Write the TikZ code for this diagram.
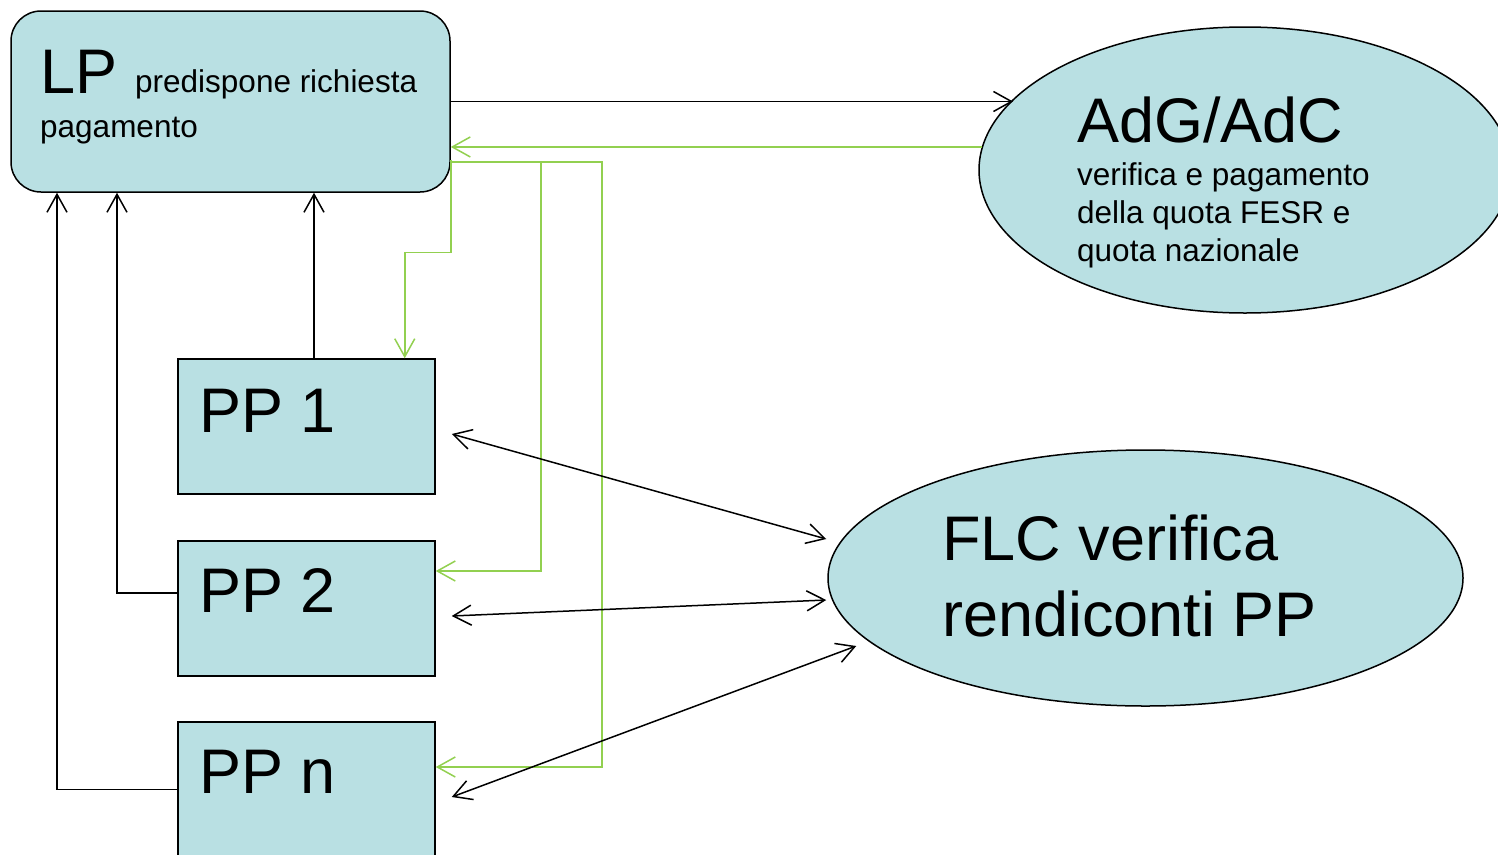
\documentclass[tikz,border=0pt]{standalone}
\usepackage{fontspec}
\setmainfont{Liberation Sans}
\usetikzlibrary{arrows.meta,shapes.geometric}
\definecolor{boxfill}{RGB}{185,224,227}
\definecolor{flowgreen}{RGB}{146,208,80}
\tikzset{
  shapebox/.style={draw=black, line width=1.5pt, fill=boxfill, inner sep=0pt},
  ppbox/.style={shapebox, rectangle, minimum width=257pt, minimum height=135pt},
  oval/.style={shapebox, ellipse},
  arr/.style={line width=1.5pt, -{Straight Barb[length=18pt,width=20pt]}},
  darr/.style={line width=1.5pt, {Straight Barb[length=18pt,width=20pt]}-{Straight Barb[length=18pt,width=20pt]}},
  garr/.style={arr, draw=flowgreen},
  bigtxt/.style={anchor=base west, inner sep=0pt, font=\fontsize{63}{76}\selectfont},
  smalltxt/.style={anchor=base west, inner sep=0pt, font=\fontsize{31.5}{38}\selectfont, align=left},
}
\begin{document}
\begin{tikzpicture}[x=1pt, y=-1pt]
\useasboundingbox (0,0) rectangle (1498,854);
\clip (0,0) rectangle (1498,854);
% shapes
\node[shapebox, rectangle, rounded corners=30pt, minimum width=439pt, minimum height=181pt] (LP) at (230.5,101.5) {};
\node[oval, minimum width=532pt, minimum height=286pt] (AdG) at (1245,170) {};
\node[oval, minimum width=635pt, minimum height=256pt] (FLC) at (1145.5,578) {};
\node[ppbox] (PP1) at (306.5,426.5) {};
\node[ppbox] (PP2) at (306.5,608.5) {};
\node[ppbox] (PPn) at (306.5,789.5) {};
% texts
\node[bigtxt] (tLP) at (40,93) {LP};
\node[smalltxt] (tLPa) at (135,92) {predispone richiesta};
\node[smalltxt] (tLPb) at (40,137) {pagamento};
\node[bigtxt] (tAdG) at (1077,142) {AdG/AdC};
\node[smalltxt] (tAdGa) at (1077,261) {verifica e pagamento\\della quota FESR e\\quota nazionale};
\node[bigtxt, align=left] (tFLC) at (942,636) {FLC verifica\\rendiconti PP};
\node[bigtxt] (tPP1) at (199,432) {PP 1};
\node[bigtxt] (tPP2) at (199,612) {PP 2};
\node[bigtxt] (tPPn) at (199,793) {PP n};
% LP -> AdG
\draw[arr] (LP.east) -- (LP.east -| AdG.163.8);
% AdG -> LP (green)
\draw[garr] (AdG.175) -- (LP.east |- AdG.175);
% green from LP to PPs
\draw[garr] ([yshift=-58pt]LP.east) -- ++(0,93) -| ([xshift=-31pt]PP1.north east);
\draw[garr] ([yshift=-60.5pt]LP.east) -| ([xshift=105pt,yshift=37.5pt]PP2.east) -- ([yshift=37.5pt]PP2.east);
\draw[garr] ([yshift=-60.5pt]LP.east) -| ([xshift=166pt,yshift=22.5pt]PPn.east) -- ([yshift=22.5pt]PPn.east);
% PPs -> LP (black)
\draw[arr] ([xshift=7.5pt]PP1.north) -- ([xshift=7.5pt]PP1.north |- LP.south);
\draw[arr] ([yshift=15.5pt]PP2.west) -| ([xshift=-113.5pt]LP.south);
\draw[arr] (PPn.west) -| ([xshift=-173.5pt]LP.south);
% PPs <-> FLC
\draw[darr] ([xshift=16pt,yshift=-7.5pt]PP1.east) -- ([xshift=-1pt,yshift=39pt]FLC.west);
\draw[darr] ([xshift=16pt,yshift=-7.5pt]PP2.east) -- ([xshift=-1pt,yshift=-22pt]FLC.west);
\draw[darr] ([xshift=16pt,yshift=-7.5pt]PPn.east) -- ([xshift=29pt,yshift=-68pt]FLC.west);
\end{tikzpicture}
\end{document}
